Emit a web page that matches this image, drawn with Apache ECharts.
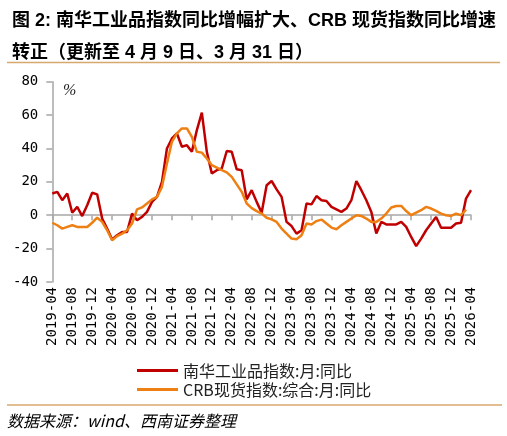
<!DOCTYPE html>
<html>
<head>
<meta charset="utf-8">
<script src="https://cdn.jsdelivr.net/npm/echarts@6/dist/echarts.min.js"></script>
<style>
html,body{margin:0;padding:0;background:#fff;}
#chart{width:507px;height:436px;}
</style>
</head>
<body>
<div id="chart"></div>
<script>
const categories = [
'2019-04','2019-05','2019-06','2019-07','2019-08','2019-09','2019-10','2019-11','2019-12',
'2020-01','2020-02','2020-03','2020-04','2020-05','2020-06','2020-07','2020-08','2020-09','2020-10','2020-11','2020-12',
'2021-01','2021-02','2021-03','2021-04','2021-05','2021-06','2021-07','2021-08','2021-09','2021-10','2021-11','2021-12',
'2022-01','2022-02','2022-03','2022-04','2022-05','2022-06','2022-07','2022-08','2022-09','2022-10','2022-11','2022-12',
'2023-01','2023-02','2023-03','2023-04','2023-05','2023-06','2023-07','2023-08','2023-09','2023-10','2023-11','2023-12',
'2024-01','2024-02','2024-03','2024-04','2024-05','2024-06','2024-07','2024-08','2024-09','2024-10','2024-11','2024-12',
'2025-01','2025-02','2025-03','2025-04','2025-05','2025-06','2025-07','2025-08','2025-09','2025-10','2025-11','2025-12',
'2026-01','2026-02','2026-03','2026-04'
];

const nanhuaYoY = [
13,14,9,13,1.5,5,-0.5,6,13.5,12.5,-2,-8,-14.5,-12,-10,-10,1,-3,-1,2,8,
11,20,40,46,49,41,42,38,51,61.5,38,25,
27,28,38.5,38,27.5,27,9.5,15,8,1.5,18,20.5,
15.5,11,-4,-6.5,-11,-9,7,6.5,11.5,9,8.5,5,
3.5,2,4,9,20.5,15,9,2,-11,-4,-5.5,-5.5,
-5.5,-4,-7,-13,-18.5,-14,-9,-5,-1,-7.5,-7.5,-7.5,
-5,-4.5,10,15
];

const crbYoY = [
-4.5,-6,-8,-7,-6,-7,-7,-7,-4.5,-1.5,-4,-9,-15,-12.5,-11,-9,-5,3.5,4.7,7,9.5,
11,17,31,44,49,52,52,47,38,37.5,34,30,
28.5,27,25.7,23,18.5,14,7,4.3,2.5,1,-1.5,-2.5,
-4,-8,-11,-14,-14.4,-12,-5,-5.6,-3.5,-2.6,-5,-7.4,
-8.4,-6,-4,-2,0,-0.4,-2,-4,-4,-2,1,4.6,
5.5,5.6,2.5,0,1.5,3,5,4,2.6,1,0,-0.4,
1,0,3.4
];

const yTicks = {min: -40, max: 80, step: 20};
const seriesNames = ['南华工业品指数:月:同比', 'CRB现货指数:综合:月:同比'];
const titleLines = ['图 2: 南华工业品指数同比增幅扩大、CRB 现货指数同比增速', '转正（更新至 4 月 9 日、3 月 31 日）'];
const sourceText = '数据来源：wind、西南证券整理';
const unitText = '%';

const chart = echarts.init(document.getElementById('chart'), null, {renderer: 'canvas'});
const mono = 'DejaVu Sans Mono';
const cjk = '"Noto Sans CJK SC", "Noto Sans", sans-serif';
const axisGray = '#a6a6a6';

chart.setOption({
  animation: false,
  backgroundColor: '#fff',
  title: {
    text: titleLines.join('\n'),
    left: 7,
    top: 0,
    textStyle: {
      fontFamily: '"Liberation Sans", "Noto Sans CJK SC", sans-serif',
      fontWeight: 'bold',
      fontSize: 18,
      lineHeight: 32,
      color: '#000'
    }
  },
  grid: {left: 52.3, right: 36, top: 81.7, bottom: 154, containLabel: false},
  legend: {
    orient: 'vertical',
    left: 132,
    top: 357,
    itemWidth: 41,
    itemHeight: 3,
    itemGap: 2,
    icon: 'rect',
    textStyle: {fontFamily: cjk, fontSize: 16, lineHeight: 17, color: '#222'},
    data: seriesNames
  },
  xAxis: [
    {
      type: 'category',
      data: categories,
      boundaryGap: false,
      axisLine: {onZero: true, lineStyle: {color: axisGray, width: 1.5}},
      axisTick: {show: true, interval: 3, length: 5, lineStyle: {color: axisGray, width: 1.5}},
      axisLabel: {show: false},
      splitLine: {show: false}
    },
    {
      type: 'category',
      data: categories,
      boundaryGap: false,
      position: 'bottom',
      axisLine: {show: false, onZero: false},
      axisTick: {show: false},
      axisLabel: {
        show: true, interval: 3, rotate: 90, margin: 5,
        fontFamily: mono, fontSize: 14, color: '#000'
      },
      splitLine: {show: false}
    }
  ],
  yAxis: {
    type: 'value',
    min: yTicks.min,
    max: yTicks.max,
    interval: yTicks.step,
    axisLine: {show: true, lineStyle: {color: axisGray, width: 1.5}},
    axisTick: {show: true, length: 6, lineStyle: {color: axisGray, width: 1.5}},
    axisLabel: {fontFamily: mono, fontSize: 14, color: '#000', margin: 14},
    splitLine: {show: false}
  },
  graphic: [
    {type: 'line', shape: {x1: 7, y1: 62.5, x2: 500, y2: 62.5}, style: {stroke: '#d6a86e', lineWidth: 1.5}},
    {type: 'line', shape: {x1: 7, y1: 405, x2: 502, y2: 405}, style: {stroke: '#d6a86e', lineWidth: 1.5}},
    {type: 'text', left: 63, top: 83, style: {text: unitText, font: 'italic 16px "Liberation Serif", serif', fill: '#222'}},
    {type: 'text', left: 7, top: 413, style: {text: sourceText, font: 'italic 16px "Noto Sans CJK SC", sans-serif', fill: '#000'}}
  ],
  series: [
    {
      name: seriesNames[0], type: 'line', data: nanhuaYoY, xAxisIndex: 0,
      symbol: 'none', lineStyle: {width: 2.5, color: '#c00000'}, itemStyle: {color: '#c00000'}
    },
    {
      name: seriesNames[1], type: 'line', data: crbYoY, xAxisIndex: 0,
      symbol: 'none', lineStyle: {width: 2.5, color: '#ee7f12'}, itemStyle: {color: '#ee7f12'}
    }
  ]
});
</script>
</body>
</html>
